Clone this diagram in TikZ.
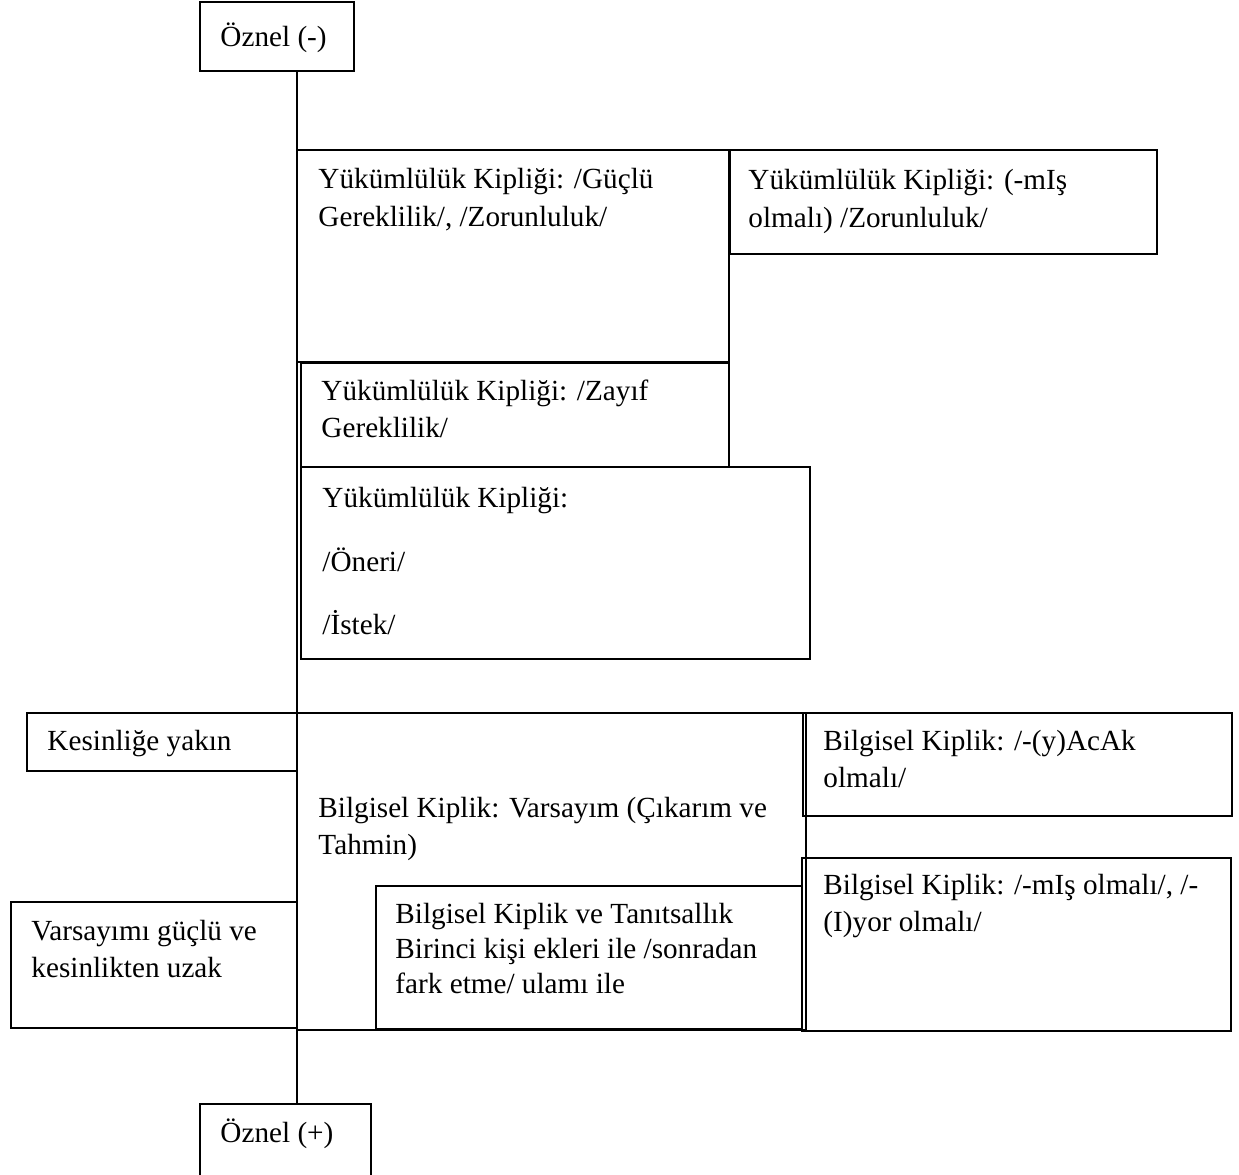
\documentclass[tikz,border=0pt]{standalone}
\usepackage{fontspec}
\setmainfont{Liberation Serif}
\newcommand\pxbox[5]{\node[bx, minimum width={(#4-#2)*0.411pt}, minimum height={(#5-#3)*0.411pt}] (#1) at (#2,#3) {};}
\newcommand\pxtext[5]{\node[lbl] (#1) at (#2,#3) {\parbox[t]{600pt}{\raggedright\baselineskip=#4\relax #5}};}
\begin{document}
\begin{tikzpicture}[x=0.411pt,y=-0.411pt,
  bx/.style={draw, line width=0.5pt, anchor=north west, inner sep=0pt, outer sep=0pt},
  lbl/.style={anchor=base west, inner sep=0pt, font=\fontsize{12pt}{14pt}\selectfont}]
\useasboundingbox (0,0) rectangle (1239,1174);
% boxes
\pxbox{ozm}{200}{2}{354}{71}
\pxbox{boxA}{297}{150}{729}{362}
\pxbox{boxB}{730}{150}{1157}{254}
\pxbox{boxC}{301}{363}{729}{467}
\pxbox{boxD}{301}{467}{810}{659}
\pxbox{kes}{27}{713}{297}{771}
\pxbox{big}{297}{713}{806}{1030}
\pxbox{acak}{803}{713}{1232}{816}
\pxbox{mis}{802}{858}{1231}{1031}
\pxbox{tan}{376}{886}{802}{1029}
\pxbox{var}{11}{902}{297}{1028}
\pxbox{ozp}{200}{1104}{371}{1178}
% axis
\coordinate (axis) at (297,0);
\draw[line width=0.5pt] (ozm.south -| axis) -- (ozp.north -| axis);
% texts
\pxtext{tozm}{220}{46}{14pt}{Öznel (-)}
\pxtext{tA}{318}{188}{16pt}{Yükümlülük Kipliği: /Güçlü\\Gereklilik/, /Zorunluluk/}
\pxtext{tB}{748}{189}{16pt}{Yükümlülük Kipliği: (-mIş\\olmalı) /Zorunluluk/}
\pxtext{tC}{321}{400}{15.6pt}{Yükümlülük Kipliği: /Zayıf\\Gereklilik/}
\pxtext{tD}{322}{507}{26.3pt}{Yükümlülük Kipliği:\\/Öneri/\\/İstek/}
\pxtext{tkes}{47}{750}{14pt}{Kesinliğe yakın}
\pxtext{tvar}{31}{940}{15.6pt}{Varsayımı güçlü ve\\kesinlikten uzak}
\pxtext{tbig}{318}{817}{15.6pt}{Bilgisel Kiplik: Varsayım (Çıkarım ve\\Tahmin)}
\pxtext{tacak}{823}{750}{15.6pt}{Bilgisel Kiplik: /-(y)AcAk\\olmalı/}
\pxtext{tmis}{823}{894}{15.6pt}{Bilgisel Kiplik: /-mIş olmalı/, /-\\(I)yor olmalı/}
\pxtext{ttan}{395}{923}{14.4pt}{Bilgisel Kiplik ve Tanıtsallık\\Birinci kişi ekleri ile /sonradan\\fark etme/ ulamı ile}
\pxtext{tozp}{220}{1142}{14pt}{Öznel (+)}
\end{tikzpicture}
\end{document}
